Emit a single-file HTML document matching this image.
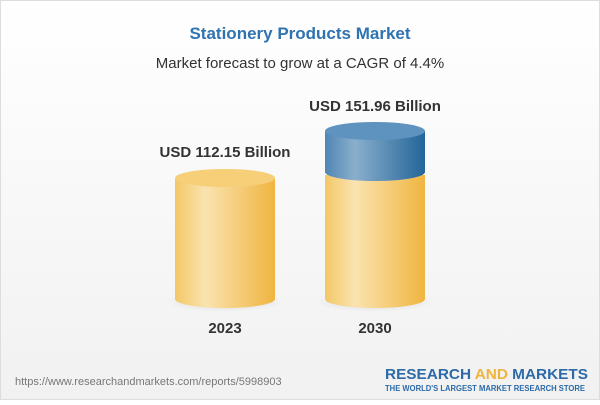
<!DOCTYPE html>
<html><head><style>
body{margin:0;width:600px;height:400px;overflow:hidden;background:#fff;font-family:"Liberation Sans",sans-serif;}
</style></head><body>
<svg width="600" height="400" xmlns="http://www.w3.org/2000/svg">
<defs>
<linearGradient id="y" x1="0" x2="1"><stop offset="0" stop-color="#f3c766"/><stop offset="0.3" stop-color="#fae3b0"/><stop offset="1" stop-color="#f0b540"/></linearGradient>
<linearGradient id="b" x1="0" x2="1"><stop offset="0" stop-color="#4f86b4"/><stop offset="0.3" stop-color="#8aafcc"/><stop offset="1" stop-color="#23659a"/></linearGradient>
<linearGradient id="bg" x1="0" y1="0" x2="0" y2="1"><stop offset="0" stop-color="#ffffff"/><stop offset="1" stop-color="#f1f1f1"/></linearGradient>
<radialGradient id="sh"><stop offset="0" stop-color="#ccc" stop-opacity="0.7"/><stop offset="1" stop-color="#ccc" stop-opacity="0"/></radialGradient>
</defs>
<rect x="0.5" y="0.5" width="599" height="399" fill="url(#bg)" stroke="#ddd"/>
<text x="300" y="39" text-anchor="middle" font-size="17" font-weight="bold" fill="#2f73b0">Stationery Products Market</text>
<text x="300" y="68" text-anchor="middle" font-size="15" fill="#333">Market forecast to grow at a CAGR of 4.4%</text>
<ellipse cx="225" cy="302" rx="60" ry="10" fill="url(#sh)"/>
<ellipse cx="375" cy="302" rx="60" ry="10" fill="url(#sh)"/>
<path d="M175 178 V299 A50 9 0 0 0 275 299 V178 Z" fill="url(#y)"/>
<ellipse cx="225" cy="178" rx="50" ry="9" fill="#f6cf78"/>
<path d="M325 175 V299 A50 9 0 0 0 425 299 V175 Z" fill="url(#y)"/>
<path d="M325 131 V172 A50 9 0 0 0 425 172 V131 Z" fill="url(#b)"/>
<ellipse cx="375" cy="131" rx="50" ry="9" fill="#5f93bf"/>
<text x="225" y="157" text-anchor="middle" font-size="15" font-weight="bold" fill="#333">USD 112.15 Billion</text>
<text x="375" y="111" text-anchor="middle" font-size="15" font-weight="bold" fill="#333">USD 151.96 Billion</text>
<text x="225" y="333" text-anchor="middle" font-size="15" font-weight="bold" fill="#333">2023</text>
<text x="375" y="333" text-anchor="middle" font-size="15" font-weight="bold" fill="#333">2030</text>
<text x="15" y="385" font-size="11" fill="#777">https://www.researchandmarkets.com/reports/5998903</text>
<text x="385" y="379" font-size="15" font-weight="bold" fill="#2c6aa8" textLength="203" lengthAdjust="spacingAndGlyphs">RESEARCH <tspan fill="#f0b43c">AND</tspan> MARKETS</text>
<text x="385" y="391" font-size="8" font-weight="bold" fill="#2c6aa8" textLength="200" lengthAdjust="spacingAndGlyphs">THE WORLD'S LARGEST MARKET RESEARCH STORE</text>
</svg>
</body></html>
